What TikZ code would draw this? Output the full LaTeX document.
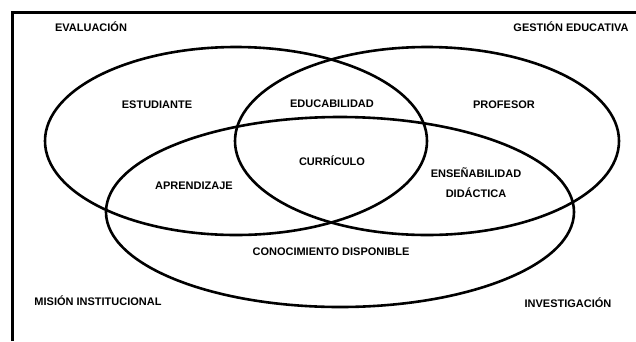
\documentclass[tikz,border=0pt]{standalone}
\usepackage{fontspec}
\setmainfont{Liberation Sans}
\begin{document}
\begin{tikzpicture}[x=1pt,y=-1pt,
    ring/.style={line width=2.6pt},
    lbl/.style={font=\bfseries\fontsize{11}{20}\selectfont, inner sep=0pt, text height=8pt, text depth=0pt}]
    \useasboundingbox (0,0) rectangle (636,341) ;
    \draw[line width=3pt] (12,341) -- (12,12) -- (636,12) ;
    \draw[ring] (236,141) ellipse [x radius=191pt, y radius=94pt] ;
    \draw[ring] (427,141) ellipse [x radius=192pt, y radius=94pt] ;
    \draw[ring] (340,212) ellipse [x radius=234pt, y radius=95pt] ;
    \node[lbl] (eval) at (91,27) {EVALUACIÓN} ;
    \node[lbl] (gest) at (571,27) {GESTIÓN EDUCATIVA} ;
    \node[lbl] (estu) at (157,104) {ESTUDIANTE} ;
    \node[lbl] (educ) at (332,103) {EDUCABILIDAD} ;
    \node[lbl] (prof) at (504,104) {PROFESOR} ;
    \node[lbl] (curr) at (332,161) {CURRÍCULO} ;
    \node[lbl] (apre) at (194,185) {APRENDIZAJE} ;
    \node[lbl, text height=, text depth=, align=center] (ense) at (476,183) {ENSEÑABILIDAD\\DIDÁCTICA} ;
    \node[lbl] (cono) at (331,251) {CONOCIMIENTO DISPONIBLE} ;
    \node[lbl] (misi) at (98,301) {MISIÓN INSTITUCIONAL} ;
    \node[lbl] (inve) at (568,303) {INVESTIGACIÓN} ;
\end{tikzpicture}
\end{document}
